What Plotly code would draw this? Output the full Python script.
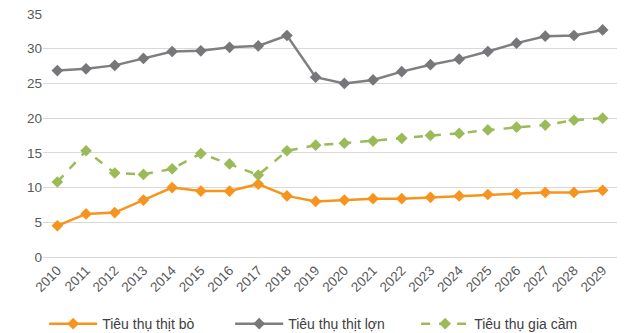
import plotly.graph_objects as go

years = [str(y) for y in range(2010, 2030)]
beef = [4.5, 6.2, 6.4, 8.2, 10.0, 9.5, 9.5, 10.5, 8.8, 8.0, 8.2, 8.4, 8.4, 8.6, 8.8, 9.0, 9.1, 9.3, 9.3, 9.6]
pork = [26.85, 27.1, 27.6, 28.6, 29.6, 29.7, 30.2, 30.4, 31.9, 25.9, 25.0, 25.5, 26.7, 27.7, 28.5, 29.6, 30.8, 31.8, 31.9, 32.7]
poultry = [10.8, 15.3, 12.1, 11.9, 12.7, 14.9, 13.4, 11.8, 15.3, 16.1, 16.4, 16.7, 17.1, 17.5, 17.8, 18.3, 18.7, 19.0, 19.7, 20.0]
names = ["Tiêu thụ thịt bò", "Tiêu thụ thịt lợn", "Tiêu thụ gia cầm"]

fig = go.Figure()
fig.add_trace(go.Scatter(x=years, y=beef, name=names[0], mode="lines+markers",
                         line=dict(color="#F7941E", width=2.5),
                         marker=dict(symbol="diamond", size=9, color="#F7941E")))
fig.add_trace(go.Scatter(x=years, y=pork, name=names[1], mode="lines+markers",
                         line=dict(color="#7F7F7F", width=2.5),
                         marker=dict(symbol="diamond", size=9, color="#76777A")))
fig.add_trace(go.Scatter(x=years, y=poultry, name=names[2], mode="lines+markers",
                         line=dict(color="#9BBB59", width=2.5, dash="dash"),
                         marker=dict(symbol="diamond", size=9, color="#9BBB59")))

fig.update_layout(
    width=625, height=333,
    margin=dict(l=43, r=8, t=14, b=76, autoexpand=False),
    paper_bgcolor="white", plot_bgcolor="white",
    font=dict(family="Liberation Sans, Arial, sans-serif", size=12, color="#595959"),
    showlegend=True,
    legend=dict(orientation="h", x=0.002, xanchor="left", y=-0.276, yanchor="middle",
                font=dict(size=14, color="#404040"), entrywidth=123, itemwidth=48),
)
fig.update_xaxes(type="category", range=[-0.5, len(years) - 0.5], tickangle=-45,
                 showgrid=False, showline=False,
                 ticks="", automargin=False, ticklabelstandoff=2,
                 tickfont=dict(size=13.5, color="#595959"))
fig.update_yaxes(range=[0, 35], dtick=5, showgrid=True, gridcolor="#D9D9D9", gridwidth=1.3,
                 zeroline=True, zerolinecolor="#D9D9D9", zerolinewidth=1.3, automargin=False,
                 showline=False, ticks="", tickfont=dict(size=13.5, color="#595959"))

fig.write_html("out.html")
